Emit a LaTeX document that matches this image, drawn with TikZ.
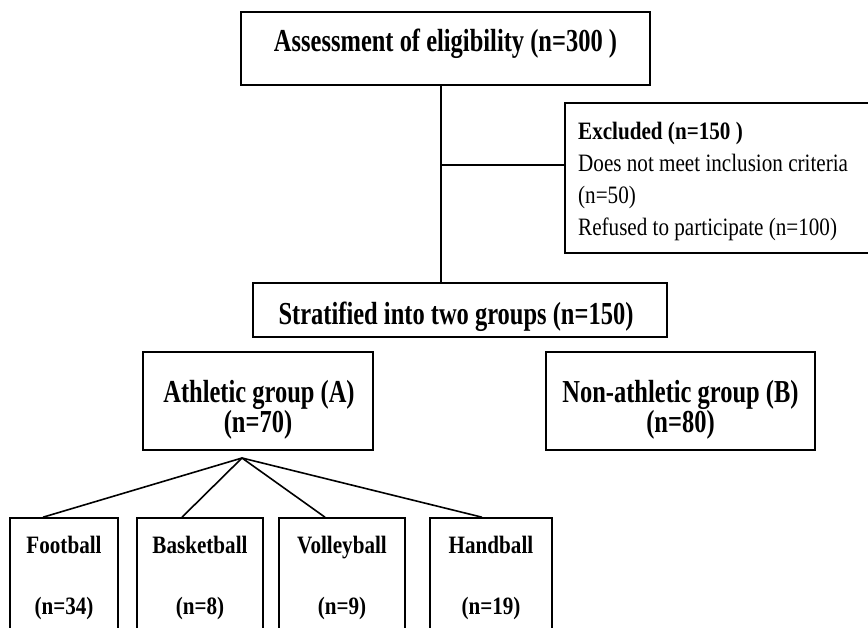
\documentclass[tikz,border=0pt]{standalone}
\usepackage{fontspec}
\setmainfont{Liberation Serif}
\newfontfamily\bigfam{Liberation Serif}[FakeStretch=0.765]
\newfontfamily\smlfam{Liberation Serif}[FakeStretch=0.845]
\begin{document}
\begin{tikzpicture}[x=1bp,y=-1bp,
  box/.style={draw=black, line width=1.6bp, rectangle, inner sep=0pt},
  big/.style={font=\bigfam\fontsize{32bp}{34bp}\selectfont\bfseries, inner sep=0pt},
  sml/.style={font=\smlfam\fontsize{25bp}{32bp}\selectfont, inner sep=0pt},
  smlb/.style={font=\smlfam\fontsize{25bp}{32bp}\selectfont\bfseries, inner sep=0pt},
  conn/.style={draw=black, line width=1.6bp}]
\useasboundingbox (0,0) rectangle (868,628);
\fill[white] (0,0) rectangle (868,628);
\clip (0,0) rectangle (868,628);
% boxes
\node[box, minimum width=409bp, minimum height=73bp] (top) at (445.5,48.5) {};
\node[box, minimum width=360bp, minimum height=150bp] (excl) at (745,178) {};
\node[box, minimum width=414bp, minimum height=54bp] (strat) at (460,310) {};
\node[box, minimum width=230bp, minimum height=98bp] (athl) at (258,401) {};
\node[box, minimum width=269bp, minimum height=98bp] (nonath) at (680.5,401) {};
\node[box, minimum width=108bp, minimum height=142bp] (foot) at (64,589) {};
\node[box, minimum width=126bp, minimum height=142bp] (bask) at (200,589) {};
\node[box, minimum width=126bp, minimum height=142bp] (volley) at (342,589) {};
\node[box, minimum width=122bp, minimum height=142bp] (hand) at (491,589) {};
% texts
\node[big, anchor=base] (toptxt) at (445.5,52) {Assessment of eligibility (n=300 )};
\node[smlb, anchor=base west] (ex1) at (578,140) {Excluded (n=150 )};
\node[sml, anchor=base west] (ex2) at (578,172) {Does not meet inclusion criteria};
\node[sml, anchor=base west] (ex3) at (578,204) {(n=50)};
\node[sml, anchor=base west] (ex4) at (578,236) {Refused to participate (n=100)};
\node[big, anchor=base] (strattxt) at (456,324) {Stratified into two groups (n=150)};
\node[big, anchor=base] (athl1) at (259,402) {Athletic group (A)};
\node[big, anchor=base] (athl2) at (258,432) {(n=70)};
\node[big, anchor=base] (non1) at (680.5,402) {Non-athletic group (B)};
\node[big, anchor=base] (non2) at (680.5,432) {(n=80)};
\node[smlb, anchor=base] (foot1) at (64,553) {Football};
\node[smlb, anchor=base] (foot2) at (64,614) {(n=34)};
\node[smlb, anchor=base] (bask1) at (200,553) {Basketball};
\node[smlb, anchor=base] (bask2) at (200,614) {(n=8)};
\node[smlb, anchor=base] (volley1) at (342,553) {Volleyball};
\node[smlb, anchor=base] (volley2) at (342,614) {(n=9)};
\node[smlb, anchor=base] (hand1) at (491,553) {Handball};
\node[smlb, anchor=base] (hand2) at (491,614) {(n=19)};
% connectors
\coordinate (spine) at (441,0);
\coordinate (j) at (441,165);
\coordinate (apex) at (242,458);
\draw[conn] (top.south -| spine) -- (strat.north -| spine);
\draw[conn] (j) -- (j -| excl.west);
\draw[conn] (apex) -- ([xshift=-21bp]foot.north);
\draw[conn] (apex) -- ([xshift=-18bp]bask.north);
\draw[conn] (apex) -- ([xshift=-17bp]volley.north);
\draw[conn] (apex) -- ([xshift=-9bp]hand.north);
\end{tikzpicture}
\end{document}
